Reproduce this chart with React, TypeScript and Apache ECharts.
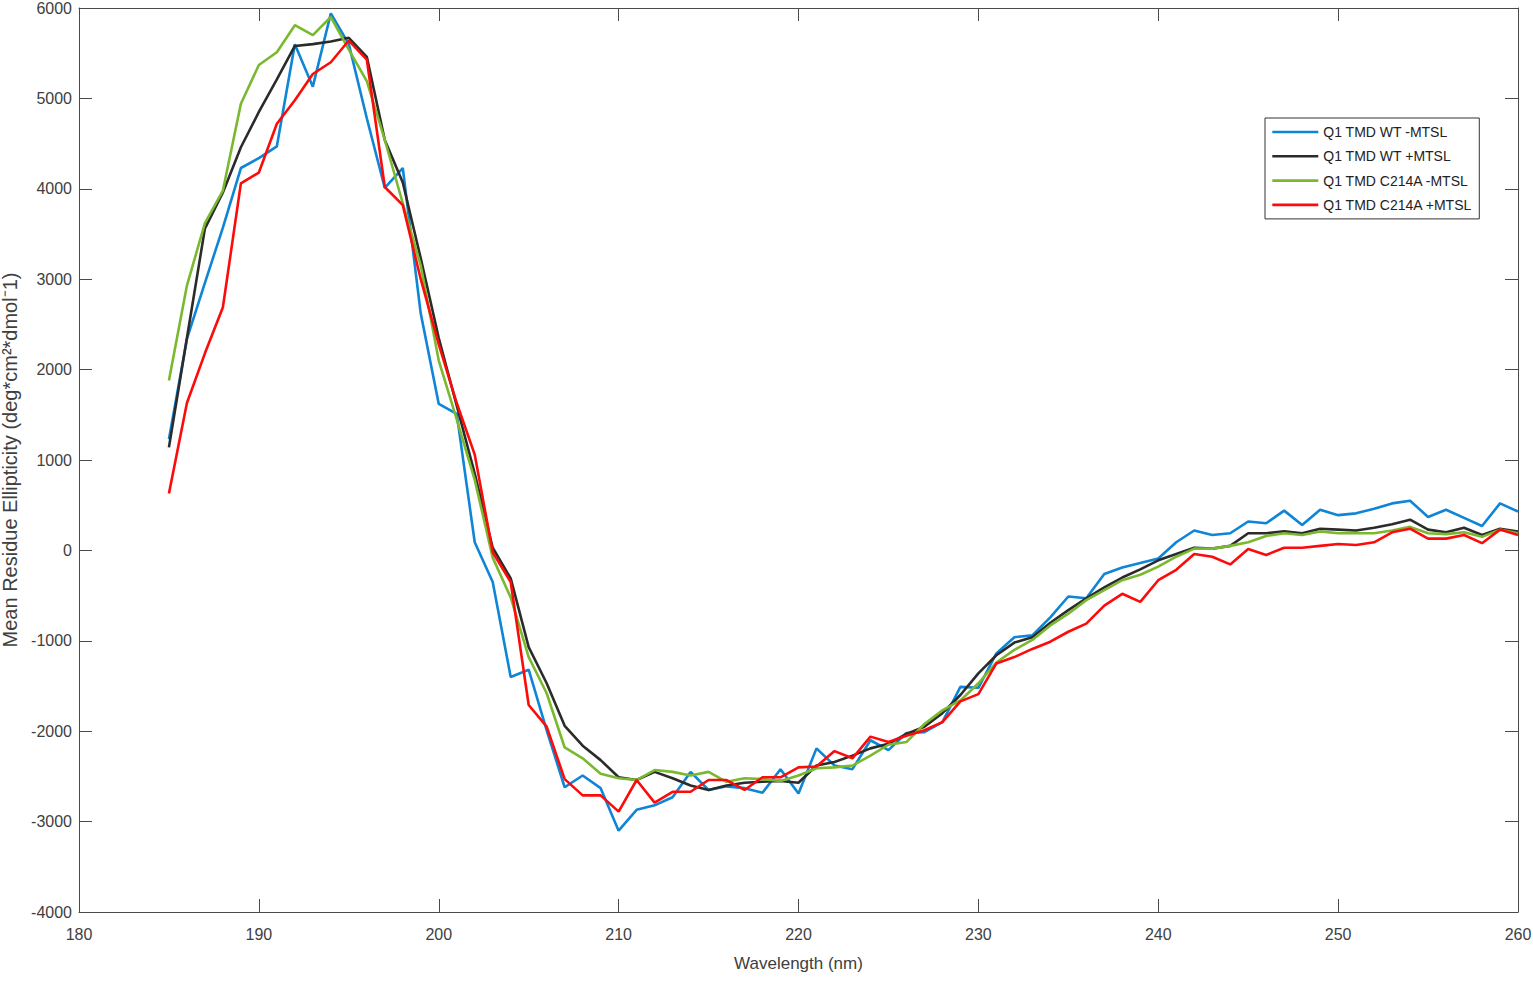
import React, { useEffect, useRef } from "react";
import * as echarts from "echarts";

const wavelengths: number[] = [];
for (let w = 185; w <= 260; w++) wavelengths.push(w);

const seriesNames = [
  "Q1 TMD WT -MTSL",
  "Q1 TMD WT +MTSL",
  "Q1 TMD C214A -MTSL",
  "Q1 TMD C214A +MTSL",
];

const wtMinus = [
  1230, 2340, 2960, 3570, 4230, 4340, 4470, 5600, 5130, 5940,
  5600, 4780, 4010, 4230, 2620, 1620, 1510, 90, -350, -1400,
  -1320, -1990, -2620, -2490, -2630, -3100, -2870, -2820, -2730, -2450,
  -2650, -2610, -2630, -2680, -2420, -2690, -2190, -2380, -2420, -2100,
  -2210, -2020, -2010, -1900, -1510, -1520, -1140, -960, -940, -740,
  -510, -530, -260, -190, -140, -90, 90, 220, 170, 190,
  320, 300, 440, 280, 450, 390, 410, 460, 520, 550,
  370, 450, 360, 270, 520, 430,
];

const wtPlus = [
  1140, 2350, 3560, 3960, 4460, 4850, 5210, 5580, 5600, 5630,
  5670, 5460, 4540, 4070, 3230, 2350, 1600, 850, 30, -310,
  -1070, -1470, -1940, -2160, -2320, -2510, -2540, -2450, -2520, -2600,
  -2650, -2600, -2570, -2560, -2550, -2570, -2380, -2340, -2270, -2190,
  -2140, -2030, -1950, -1800, -1600, -1360, -1160, -1020, -960, -800,
  -660, -530, -410, -300, -210, -110, -40, 30, 20, 50,
  190, 190, 210, 190, 240, 230, 220, 250, 290, 340,
  230, 200, 250, 170, 240, 210,
];

const c214aMinus = [
  1880, 2930, 3620, 3980, 4940, 5370, 5510, 5810, 5700, 5900,
  5540, 5190, 4540, 3840, 3150, 2100, 1450, 780, -80, -520,
  -1180, -1580, -2180, -2300, -2470, -2520, -2540, -2430, -2450, -2490,
  -2450, -2560, -2520, -2530, -2550, -2490, -2410, -2400, -2380, -2270,
  -2150, -2120, -1920, -1770, -1660, -1470, -1240, -1100, -990, -830,
  -700, -550, -440, -330, -270, -180, -70, 20, 20, 50,
  90, 160, 190, 170, 210, 190, 190, 190, 220, 260,
  190, 180, 200, 150, 230, 190,
];

const c214aPlus = [
  630, 1630, 2180, 2690, 4060, 4180, 4720, 4980, 5270, 5400,
  5640, 5430, 4020, 3820, 3000, 2280, 1630, 1060, -20, -350,
  -1710, -1950, -2530, -2710, -2710, -2890, -2540, -2790, -2670, -2670,
  -2540, -2540, -2650, -2510, -2510, -2400, -2390, -2220, -2300, -2060,
  -2120, -2050, -1990, -1900, -1670, -1590, -1250, -1180, -1090, -1010,
  -900, -810, -610, -480, -570, -330, -215, -40, -70, -155,
  15, -50, 30, 30, 50, 70, 60, 90, 200, 240,
  130, 130, 170, 80, 230, 170,
];

const seriesValues = [wtMinus, wtPlus, c214aMinus, c214aPlus];
const seriesColors = ["#0E85D6", "#2B2B2B", "#7AB92F", "#FF0A0A"];

const FONT = "Liberation Sans, Arial, Helvetica, sans-serif";
const AXIS_COLOR = "#4a4a4a";
const TEXT_COLOR = "#404040";

export default function App() {
  const ref = useRef<HTMLDivElement>(null);

  useEffect(() => {
    if (!ref.current) return;
    const chart = echarts.init(ref.current, null, { renderer: "svg" });

    const axisLineStyle = { show: true, onZero: false, lineStyle: { color: AXIS_COLOR, width: 1 } };
    const tickStyle = { show: true, inside: true, length: 13, lineStyle: { color: AXIS_COLOR, width: 1 } };
    const plain = (v: number) => String(v);

    chart.setOption({
      animation: false,
      backgroundColor: "#ffffff",
      grid: { left: 79, right: 15, top: 8, bottom: 71, containLabel: false, outerBoundsMode: "none" },
      legend: {
        show: true,
        orient: "vertical",
        left: 1265,
        top: 118,
        padding: [7, 7, 7, 6],
        itemWidth: 46,
        itemHeight: 14,
        itemGap: 10.3,
        borderColor: "#333333",
        borderWidth: 1,
        backgroundColor: "#ffffff",
        itemStyle: { opacity: 0 },
        lineStyle: { width: 2.6 },
        data: seriesNames,
        textStyle: { fontFamily: FONT, fontSize: 14, color: "#222222", lineHeight: 14 },
      },
      xAxis: [
        {
          type: "value",
          min: 180,
          max: 260,
          interval: 10,
          position: "bottom",
          name: "Wavelength (nm)",
          nameLocation: "middle",
          nameGap: 43,
          nameTextStyle: { fontFamily: FONT, fontSize: 17, color: TEXT_COLOR },
          axisLine: axisLineStyle,
          axisTick: tickStyle,
          axisLabel: { margin: 14, fontFamily: FONT, fontSize: 16, color: TEXT_COLOR, formatter: plain },
          splitLine: { show: false },
        },
        {
          type: "value",
          min: 180,
          max: 260,
          interval: 10,
          position: "top",
          axisLine: axisLineStyle,
          axisTick: tickStyle,
          axisLabel: { show: false },
          splitLine: { show: false },
        },
      ],
      yAxis: [
        {
          type: "value",
          min: -4000,
          max: 6000,
          interval: 1000,
          position: "left",
          name: "Mean Residue Ellipticity (deg*cm²*dmol⁻1)",
          nameLocation: "middle",
          nameGap: 44,
          nameTextStyle: { fontFamily: FONT, fontSize: 20, color: TEXT_COLOR },
          axisLine: axisLineStyle,
          axisTick: tickStyle,
          axisLabel: { margin: 7, fontFamily: FONT, fontSize: 16, color: TEXT_COLOR, formatter: plain },
          splitLine: { show: false },
        },
        {
          type: "value",
          min: -4000,
          max: 6000,
          interval: 1000,
          position: "right",
          axisLine: axisLineStyle,
          axisTick: tickStyle,
          axisLabel: { show: false },
          splitLine: { show: false },
        },
      ],
      series: seriesNames.map((name, i) => ({
        name,
        type: "line",
        xAxisIndex: 0,
        yAxisIndex: 0,
        symbol: "none",
        showSymbol: false,
        color: seriesColors[i],
        lineStyle: { color: seriesColors[i], width: 2.6 },
        data: wavelengths.map((w, j) => [w, seriesValues[i][j]]),
      })),
    });

    return () => chart.dispose();
  }, []);

  return (
    <div
      ref={ref}
      style={{ position: "fixed", left: 0, top: 0, width: 1533, height: 983, background: "#fff" }}
    />
  );
}
